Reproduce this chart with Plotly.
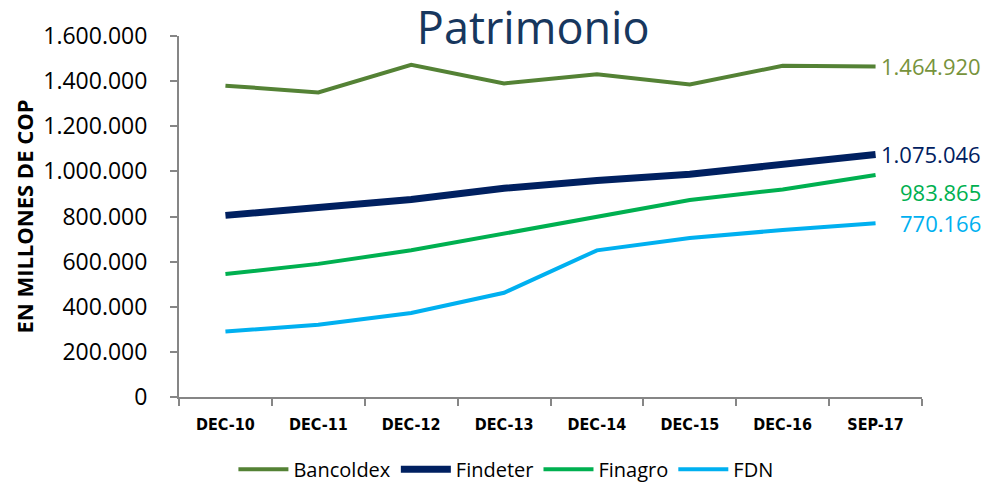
import plotly.graph_objects as go

categories = ["DEC-10", "DEC-11", "DEC-12", "DEC-13", "DEC-14", "DEC-15", "DEC-16", "SEP-17"]
bancoldex = [1380000, 1350000, 1472000, 1390000, 1430000, 1385000, 1468000, 1464920]
findeter = [805000, 843000, 875000, 925000, 960000, 987000, 1032000, 1075046]
finagro = [545000, 590000, 650000, 725000, 800000, 873000, 920000, 983865]
fdn = [290000, 320000, 372000, 462000, 650000, 705000, 740000, 770166]

y_tickvals = [0, 200000, 400000, 600000, 800000, 1000000, 1200000, 1400000, 1600000]
y_ticktext = ["0", "200.000", "400.000", "600.000", "800.000", "1.000.000", "1.200.000", "1.400.000", "1.600.000"]

series = [
    ("Bancoldex", bancoldex, "#548235", 4, "#77933C", 0),
    ("Findeter", findeter, "#002060", 7, "#002060", 0),
    ("Finagro", finagro, "#00B050", 4, "#00B050", -17),
    ("FDN", fdn, "#00B0F0", 4, "#00B0F0", 0),
]

def fmt(v):
    return f"{v:,}".replace(",", ".")

COND = "DejaVu Sans Condensed, DejaVu Sans"

fig = go.Figure()
for name, vals, color, width, lcolor, yshift in series:
    fig.add_trace(go.Scatter(x=categories, y=vals, mode="lines", name=name,
                             line=dict(color=color, width=width)))
    fig.add_annotation(x=categories[-1], y=vals[-1], text=fmt(vals[-1]), showarrow=False,
                       xanchor="right", xshift=107, yshift=yshift,
                       font=dict(size=22, color=lcolor, family="Open Sans"))

fig.update_layout(
    width=1006, height=487,
    margin=dict(l=179, r=84, t=36, b=90, autoexpand=False),
    paper_bgcolor="white", plot_bgcolor="white",
    title=dict(text="Patrimonio", x=0.53, xanchor="center", yref="container", y=0.942, yanchor="middle",
               pad=dict(t=0, b=0),
               font=dict(size=45, color="#17375E", family="Open Sans")),
    showlegend=True,
    legend=dict(orientation="h", x=0.44, xanchor="center", xref="paper", y=-0.2, yanchor="middle",
                font=dict(size=20, color="black", family="Open Sans"),
                itemwidth=50, traceorder="normal"),
    yaxis=dict(range=[0, 1600000], tickvals=y_tickvals, ticktext=y_ticktext, automargin=False,
               showgrid=False, zeroline=False, showline=True, linecolor="#868686", linewidth=2,
               ticks="outside", ticklen=7, tickcolor="#868686", tickwidth=2,
               ticklabelstandoff=18,
               tickfont=dict(size=23, color="black", family="Open Sans"),
               title=dict(text="<b>EN MILLONES DE COP</b>", standoff=4,
                          font=dict(size=22, color="black", family="Open Sans"))),
    xaxis=dict(range=[-0.5, 7.5], showgrid=False, showline=True, linecolor="#868686", linewidth=2,
               automargin=False,
               ticks="outside", ticklen=7, tickcolor="#868686", tickwidth=2, tickson="boundaries",
               tickfont=dict(size=16, color="black", family=COND, weight="bold"),
               ticklabelstandoff=12),
)

fig.write_html("out.html", config={"displayModeBar": False},
               post_script="document.body.style.margin='0px';")
